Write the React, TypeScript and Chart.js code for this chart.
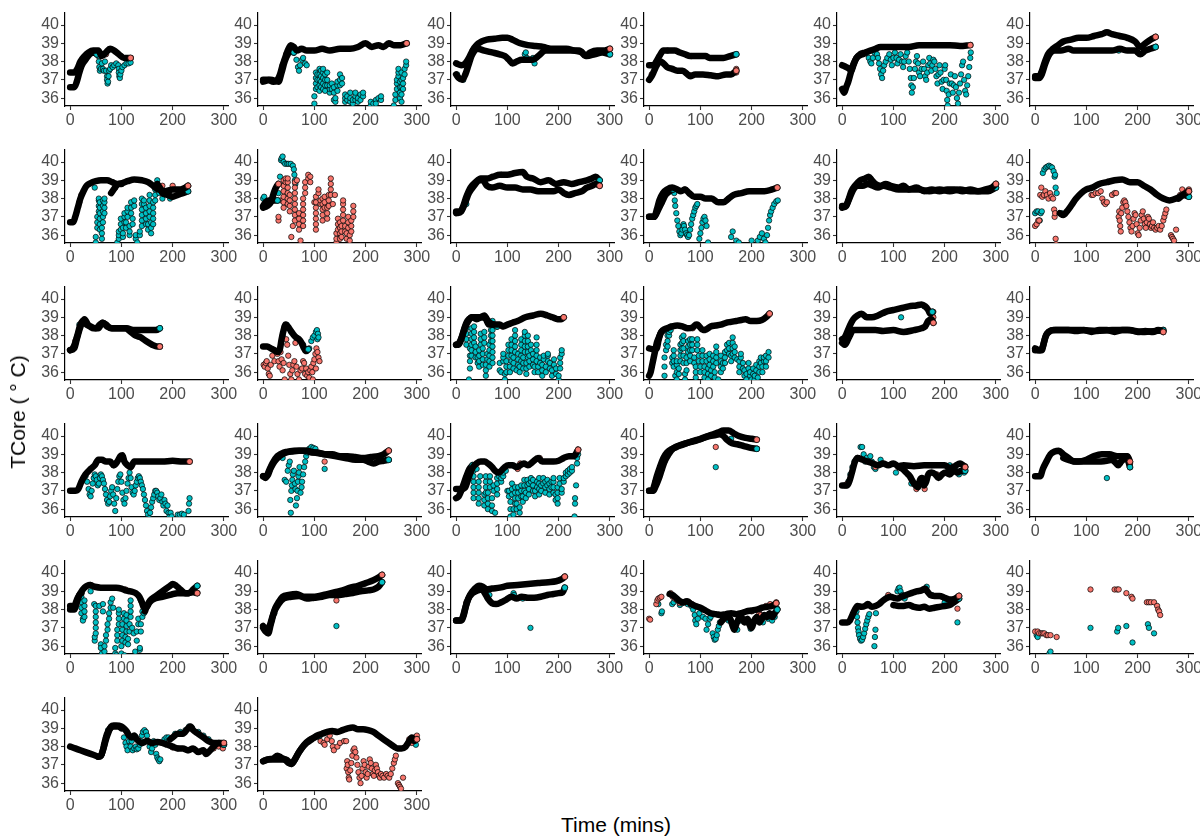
import React, { useEffect, useRef } from "react";
import { Chart, registerables } from "chart.js";
Chart.register(...registerables);

const SALMON = "#F8766D";
const TEAL = "#00BFC4";
const FONT = "'Liberation Sans', Arial, Helvetica, sans-serif";
const X_TICKS = [0, 100, 200, 300];
const Y_TICKS = [36, 37, 38, 39, 40];
const X_MIN = -10, X_MAX = 308, Y_MIN = 35.57, Y_MAX = 40.68;
const Y_TITLE = "TCore ( \u00B0 C)";
const X_TITLE = "Time (mins)";

// tracks: [time, value]; dots: [time, value, value, ...] (several readings at one time)
const p01a = [[0,37.4],[8,37.4],[14,37.6],[20,38.0],[28,38.3],[36,38.5],[45,38.6],[55,38.6],[62,38.3],[70,38.5],[78,38.7],[86,38.6],[95,38.4],[105,38.2],[112,38.2],[118,38.2]];
const p01b = [[0,36.6],[8,36.6],[13,36.9],[18,37.4],[23,37.8],[30,38.1],[38,38.4],[46,38.5],[52,38.4]];
const p01ad = [[70,38.4]];
const p01bd = [[55,38.3],[56,38.0],[57,37.7],[58,37.5],[60,37.6],[62,37.9],[64,37.6],[66,37.5],[68,38.0],[70,37.5],[72,37.2,37.0],[73,36.8],[74,36.9],[75,37.2],[76,37.5],[78,37.6],[80,37.8],[83,37.7],[86,37.8],[90,37.9],[94,37.8],[95,37.6,37.4],[96,37.2],[97,37.1],[98,37.3],[100,37.5],[102,37.7],[106,37.8],[110,37.9],[114,37.9],[118,37.95]];

const p02a = [[0,37.0],[10,37.0],[20,36.9],[28,37.0],[33,37.3],[38,37.8],[43,38.2],[48,38.6],[54,38.9],[60,38.8],[66,38.6],[75,38.7],[85,38.6],[100,38.6],[115,38.7],[130,38.6],[150,38.7],[170,38.7],[185,38.8],[200,39.0],[212,38.8],[225,38.9],[235,38.8],[245,39.0],[255,38.9],[268,38.9],[280,39.0]];
const p02b = [[0,36.9],[15,37.0],[30,36.9],[36,37.4],[42,38.0],[48,38.4],[55,38.6],[60,38.5]];
const p02ad = [[38,37.8],[42,38.1],[45,38.4],[58,38.5]];
const p02bd = [[65,38.1],[68,37.7],[70,37.5],[72,37.8],[76,38.1],[78,38.2],[82,37.9],[85,37.8],[100,35.7,36.1],[103,36.5,36.8,37.1,37.4],[106,36.6,37.0,37.3],[110,36.4,36.7,37.0,37.3,37.6],[113,36.6,36.9,37.2,37.5],[117,36.5,36.8,37.1,37.4,37.6],[121,36.4,36.7,37.0,37.3],[125,36.7,37.0,37.4],[130,36.3,36.5,36.7],[134,36.5,36.8],[138,35.9,36.3,36.6],[141,35.8,36.0],[145,36.4,36.7,36.9],[150,36.7,37.0,37.3],[154,36.8,37.1],[160,35.8,36.0,36.2],[164,35.9,36.1],[170,35.8,36.0,36.3],[175,35.7,35.9],[180,35.9,36.1,36.3],[185,35.8,36.0],[190,35.9,36.2],[195,36.1,36.3],[210,35.6,35.8],[215,35.7],[220,35.9,35.7],[225,36.0],[230,35.9,36.1],[255,35.6],[258,35.9,36.2],[261,36.5,36.8,37.0],[264,37.2,37.4,37.6],[267,36.0,36.3,36.6,36.9],[270,35.8,36.2,36.6,37.0,37.4],[273,36.5,36.8,37.1],[276,37.3,37.6],[279,37.8,38.0]];

const p03a = [[0,37.9],[10,37.8],[18,37.9],[25,38.2],[32,38.6],[40,38.9],[50,39.1],[60,39.2],[75,39.25],[90,39.3],[100,39.3],[110,39.2],[125,39.0],[140,38.9],[155,38.85],[170,38.8],[185,38.7],[200,38.7],[215,38.7],[230,38.6],[245,38.5],[252,38.3],[262,38.5],[275,38.6],[290,38.6],[300,38.7]];
const p03b = [[0,37.3],[5,37.1],[12,37.0],[18,37.3],[24,37.8],[30,38.3],[36,38.6],[42,38.7],[55,38.6],[70,38.5],[85,38.4],[95,38.3],[103,38.1],[110,37.9],[118,38.0],[128,38.1],[150,38.1],[160,38.3],[175,38.6],[200,38.6],[220,38.6],[240,38.6],[255,38.3],[270,38.4],[285,38.5],[300,38.4]];
const p03ad = [[32,38.6]];
const p03bd = [[2,37.3],[6,37.1],[14,37.0],[132,38.1],[134,38.4],[136,38.5],[138,38.2],[150,38.2],[153,37.9]];

const p04a = [[0,37.0],[5,37.2],[10,37.5],[15,37.8],[22,38.0],[28,37.9],[35,37.7],[45,37.6],[55,37.5],[65,37.5],[75,37.3],[80,37.2],[90,37.3],[105,37.3],[120,37.25],[135,37.2],[150,37.3],[160,37.3],[170,37.5]];
const p04b = [[0,37.8],[8,37.8],[14,38.0],[20,38.3],[28,38.6],[38,38.6],[50,38.6],[60,38.5],[70,38.4],[80,38.3],[95,38.3],[110,38.3],[118,38.2],[130,38.2],[145,38.2],[158,38.3],[170,38.4]];
const p04ad = [[5,37.3],[80,37.25],[170,37.4,37.6]];
const p04bd = [[36,38.6],[82,38.3]];

const p05a = [[0,37.8],[8,37.7],[14,37.6],[18,37.5],[22,37.8],[28,38.2],[35,38.4],[45,38.5],[55,38.6],[65,38.7],[75,38.8],[90,38.8],[110,38.8],[130,38.8],[150,38.9],[170,38.9],[190,38.9],[210,38.9],[230,38.85],[250,38.9]];
const p05b = [[0,36.5],[4,36.3],[8,36.6],[12,36.9],[16,37.3],[20,37.7],[26,38.1],[32,38.3],[40,38.4],[48,38.5]];
const p05ad = [];
const p05bd = [[52,38.2],[55,38.0],[57,37.9],[60,38.2],[63,38.5],[65,38.6],[68,38.4],[70,38.2],[72,37.9],[74,37.6],[76,37.3],[78,37.1],[80,37.5],[82,37.8],[85,38.0],[88,38.2],[92,38.4],[95,38.1],[97,37.8],[100,38.2],[103,38.5],[106,38.2],[108,37.9],[111,38.1],[114,38.4],[117,38.0],[119,37.7],[121,38.0],[124,38.3],[127,38.5],[130,38.0],[132,37.6],[134,37.1],[135,36.7],[136,36.3],[138,36.6],[140,37.1],[142,37.6],[144,38.0],[146,38.3],[148,37.9],[150,37.4],[152,37.2],[155,37.6],[158,38.0],[160,37.6],[162,37.2],[164,37.0],[166,37.4],[168,37.8],[170,38.2],[172,37.9],[174,37.5],[176,37.8],[178,38.1],[180,38.0],[182,37.6],[184,37.2],[186,36.8],[188,37.3],[190,37.8],[192,37.4],[194,36.9],[196,36.5],[198,37.0],[200,37.6],[201,37.8],[203,37.0],[204,36.4],[205,35.9],[206,35.6],[208,36.2],[210,36.8],[212,37.3],[214,36.8],[216,36.3],[218,36.7],[220,37.2],[222,36.6],[224,36.0],[226,35.7],[228,36.3],[230,36.8],[232,37.3],[234,37.8],[236,38.0],[238,37.0],[240,36.4],[242,36.2],[244,36.7],[246,37.2],[248,37.7],[250,38.2],[251,38.5]];

const p06a = [[0,37.2],[8,37.2],[12,37.4],[18,37.9],[25,38.4],[35,38.7],[45,38.9],[55,39.1],[70,39.2],[85,39.3],[100,39.3],[115,39.4],[130,39.5],[140,39.6],[150,39.5],[165,39.4],[180,39.3],[195,39.1],[205,38.8],[215,39.0],[225,39.2],[235,39.35]];
const p06b = [[0,37.1],[8,37.1],[13,37.3],[20,37.9],[28,38.4],[38,38.6],[50,38.6],[65,38.7],[75,38.6],[90,38.6],[110,38.6],[130,38.6],[150,38.6],[165,38.7],[180,38.6],[195,38.6],[205,38.4],[215,38.6],[225,38.7],[235,38.8]];
const p06ad = [];
const p06bd = [[10,37.2],[163,38.6]];

const p07a = [[0,36.7],[6,36.7],[10,37.0],[15,37.5],[20,38.0],[26,38.4],[32,38.7],[40,38.85],[50,38.95],[60,39.0],[72,39.0],[82,38.9],[92,38.8],[102,38.85],[112,38.95],[125,39.05],[140,39.0],[152,38.9],[162,38.7],[172,38.5],[185,38.4],[200,38.5],[215,38.5],[225,38.6],[230,38.7]];
const p07b = [[80,38.3],[85,38.5],[90,38.7],[95,38.8],[100,38.8],[105,null],[170,38.8],[175,38.6],[180,38.3],[190,38.2],[200,38.1],[210,38.2],[220,38.3],[230,38.4]];
const p07ad = [[18,37.8],[22,38.2],[88,38.6],[180,38.7],[200,38.7]];
const p07bd = [[48,38.6],[50,35.6,35.9],[53,36.4,36.7,37.0],[56,37.3,37.6,37.9,38.0],[58,36.3,36.6,36.9,37.2,37.5,37.8],[62,35.8,36.1,36.4],[64,36.7,37.0,37.3,37.6,37.9],[67,37.2,37.5,37.8,38.0],[92,35.6],[95,35.8,36.0,36.2],[99,36.3,36.6,36.9],[103,35.9,36.1,36.4],[106,36.7,37.0,37.2],[109,36.4,36.7],[112,37.0,37.3,37.5],[116,36.0,36.2,36.5],[119,37.2,37.5,37.8],[122,36.6,36.9],[125,37.6,37.9],[128,35.8,36.0],[131,35.6],[136,36.0,36.2],[140,36.5,36.8,37.1,37.4,37.7,38.0],[144,37.7,37.9],[148,36.6,36.9,37.2,37.5],[152,36.3,36.6],[155,37.0,37.3,37.6,37.9,38.2],[158,36.1,36.4,36.7],[162,36.6,36.9,37.2,37.5,37.8],[166,37.9,38.2,38.5],[170,38.8,39.0],[174,38.6,38.3],[180,38.0],[190,38.2],[195,38.0],[200,38.1]];

const p08a = [[0,37.5],[8,37.6],[15,37.8],[22,38.4],[27,38.7],[30,38.8]];
const p08b = [[0,37.6],[5,37.8],[10,37.9],[20,37.9],[28,37.9]];
const p08ad = [[30,36.8,37.0],[35,37.9],[40,37.5,37.8,38.1,38.4,38.7,39.0],[44,38.9,39.1],[48,37.7,38.0,38.3,38.6,38.9,39.1],[52,37.3,37.6,37.9,38.2],[55,35.9],[58,36.5],[62,36.8,37.1,37.4,37.7,38.0,38.3,38.6,38.9],[66,39.0],[70,36.3,36.6,36.9,37.2],[73,35.7],[78,36.5,36.8,37.1,37.4,37.7,38.0],[82,38.3,38.6,38.9],[88,39.1,39.3],[92,39.2,38.9],[100,37.8],[103,36.3,36.6,36.9,37.2,37.5,37.8,38.1],[108,38.3,38.5],[112,37.7,37.9],[116,36.8,37.1,37.4,37.7,38.0],[120,37.5,37.8,38.1],[125,36.9,37.2,37.5],[128,37.6,37.9,38.2],[132,38.2,38.5,38.8,39.1],[136,37.7],[140,38.2],[143,35.6,35.8,36.1],[146,36.3,36.6,36.9],[150,35.8,36.1,36.4,36.7],[153,35.9,36.2,36.5],[156,36.8,37.1,37.4,37.7,37.9],[160,36.2,36.5],[163,35.8,36.1],[166,36.4,36.7,37.0],[169,35.7,36.0],[172,36.2,36.5,36.8],[176,37.0,37.3,37.6]];
const p08bd = [[0,38.0],[2,38.1],[30,38.3],[33,39.2],[35,40.1],[36,40.2],[38,40.3],[40,40.0],[43,39.9],[47,39.9],[50,39.9],[54,39.9],[58,39.8],[60,39.6],[61,39.3],[62,39.0],[63,38.8]];

const p09a = [[0,37.2],[10,37.3],[18,37.8],[25,38.3],[35,38.7],[45,39.0],[52,39.0],[60,38.7],[70,38.6],[85,38.7],[100,38.6],[115,38.6],[130,38.5],[145,38.5],[160,38.4],[175,38.4],[190,38.4],[200,38.5],[210,38.3],[220,38.2],[232,38.3],[245,38.4],[255,38.6],[265,38.7],[272,38.8],[280,38.7]];
const p09b = [[0,37.3],[8,37.3],[14,37.6],[20,38.1],[28,38.6],[38,38.9],[48,39.1],[60,39.1],[72,39.2],[85,39.3],[100,39.3],[115,39.4],[130,39.45],[138,39.2],[150,39.1],[165,38.9],[180,39.0],[195,38.8],[210,38.9],[225,38.8],[240,38.9],[255,39.0],[265,39.1],[272,39.2],[280,39.0]];
const p09ad = [[275,38.8]];
const p09bd = [[20,37.7],[88,39.3]];

const p10a = [[0,37.0],[10,37.0],[15,37.4],[20,37.9],[27,38.3],[35,38.5],[45,38.6],[55,38.5],[62,38.4],[70,38.5],[78,38.3],[88,38.1],[100,38.1],[110,38.0],[122,38.0],[135,37.8],[145,37.8],[155,38.0],[165,38.2],[180,38.3],[195,38.4],[210,38.4],[225,38.4],[240,38.5],[250,38.6]];
const p10b = [[0,37.0],[10,37.0],[18,37.4],[25,37.8],[32,38.2],[40,38.4],[47,38.5]];
const p10ad = [[70,38.5],[155,38.0]];
const p10bd = [[49,38.3],[50,37.9],[51,37.6],[53,37.2],[55,36.8],[57,36.5],[59,36.2],[61,36.0],[63,36.1],[65,36.3],[67,36.6],[68,36.5],[70,36.3],[72,36.1],[74,36.0],[76,35.9],[78,36.0],[80,36.3],[82,36.6],[84,36.9],[86,37.1],[88,37.3],[90,37.5],[92,37.6],[94,37.7],[98,35.8],[100,36.1],[102,36.4],[104,36.7],[106,36.9],[108,37.0],[110,36.8],[112,36.5],[115,35.6],[160,35.9],[163,36.2],[170,35.7],[175,35.6],[200,35.7],[212,35.7],[216,35.9],[220,36.1],[224,35.8],[227,35.6],[230,36.0],[232,36.4],[234,36.8],[236,37.1],[238,37.3],[241,37.5],[244,37.7],[248,37.85],[251,37.9]];

const p11a = [[0,37.6],[7,37.6],[12,37.9],[18,38.4],[25,38.7],[35,39.0],[45,39.1],[52,39.2],[58,39.0],[65,38.8],[75,38.7],[85,38.8],[95,38.7],[110,38.6],[120,38.7],[130,38.5],[145,38.6],[160,38.4],[175,38.5],[190,38.4],[205,38.5],[220,38.5],[235,38.4],[250,38.5],[265,38.4],[280,38.5],[292,38.6],[300,38.8]];
const p11b = [[0,37.5],[8,37.6],[14,38.0],[22,38.5],[30,38.7],[40,38.7],[50,38.8],[60,38.7],[70,38.6],[80,38.7],[95,38.6],[110,38.5],[130,38.5],[150,38.5],[170,38.4],[190,38.5],[210,38.4],[230,38.5],[250,38.4],[270,38.4],[285,38.4],[300,38.6]];
const p11ad = [];
const p11bd = [[55,39.1]];

const p12a = [[48,37.2],[55,37.1],[62,37.3],[70,37.6],[80,38.0],[90,38.3],[100,38.5],[112,38.6],[125,38.8],[140,38.9],[155,39.0],[170,39.05],[185,38.9],[200,38.9],[212,38.7],[225,38.5],[238,38.2],[250,38.0],[262,37.9],[275,38.0],[288,38.2],[300,38.4]];
const p12b = [[280,38.0],[290,38.2],[300,38.1]];
const p12ad = [[0,36.5],[3,36.6],[6,36.8],[8,36.8],[10,38.2],[12,38.6],[14,38.1],[17,38.2],[20,38.4],[23,38.2],[26,38.0],[29,38.3],[32,38.1],[35,38.0],[37,37.4],[38,37.0],[39,37.2],[40,35.8],[41,35.5],[110,38.2],[113,38.2],[118,38.3],[123,38.3],[128,38.4],[131,38.0],[134,37.8],[137,37.7],[140,37.8],[150,38.2],[155,38.3],[158,38.3],[163,37.0],[164,37.3],[165,36.8],[166,36.5],[167,36.2],[168,37.2],[170,37.5],[172,37.8],[174,37.9],[176,37.8],[178,37.6],[180,37.3],[182,37.0],[184,36.7],[186,36.4],[188,36.2],[190,36.5],[192,36.9],[194,37.2],[196,37.1],[198,36.6],[200,36.1],[202,36.0],[204,36.4],[206,36.8],[208,37.1],[210,37.3],[212,36.9],[214,36.6],[216,36.4],[218,36.7],[220,37.0],[222,36.9],[224,36.6],[226,36.4],[228,36.5],[230,36.7],[232,36.4],[235,36.3],[238,36.4],[241,36.5],[244,36.3],[247,36.5],[250,36.8],[252,37.0],[254,37.2],[256,37.4],[265,36.0],[267,35.9],[269,35.8],[271,35.7],[275,36.3],[283,38.2],[287,38.5],[292,38.3],[296,38.4],[300,38.5]];
const p12bd = [[0,37.2],[3,37.3],[6,37.3],[9,36.8],[11,37.2],[13,37.3],[15,39.4],[18,39.6],[21,39.7],[24,39.75],[27,39.8],[30,39.75],[33,39.7],[36,39.5],[38,39.2],[39,39.3],[40,38.6],[42,38.3],[52,37.2]];

const p13a = [[0,37.2],[5,37.3],[10,37.6],[15,38.1],[20,38.6],[25,38.8],[32,38.6],[40,38.5],[50,38.4],[58,38.6],[64,38.7],[72,38.5],[82,38.4],[95,38.4],[108,38.4],[118,38.2],[128,38.0],[138,37.9],[148,37.7],[160,37.5],[170,37.4],[175,37.4]];
const p13b = [[0,37.2],[8,37.3],[13,37.8],[18,38.3],[23,38.7],[28,38.9],[35,38.6],[45,38.4],[55,38.4],[63,38.7],[70,38.6],[80,38.4],[95,38.4],[110,38.4],[125,38.3],[140,38.3],[155,38.3],[168,38.3],[175,38.4]];
const p13ad = [[10,37.7],[13,37.9]];
const p13bd = [[18,38.6]];

const p14a = [];
const p14b = [[0,37.4],[8,37.4],[15,37.3],[22,37.2],[28,37.1],[33,37.3],[36,37.8],[40,38.3],[44,38.6],[48,38.5],[53,38.3],[58,38.1],[64,37.9],[70,37.8],[75,37.6],[80,37.3],[84,37.15],[88,37.25]];
const p14ad = [[1,36.4],[3,36.3],[5,36.5],[7,36.6],[9,36.2],[11,35.9],[13,35.8],[15,36.4],[18,36.9],[22,36.6],[28,37.0],[30,36.6],[32,36.3],[34,37.1],[36,36.7],[38,36.1],[40,36.5],[42,35.6],[45,37.8],[47,37.5],[49,36.9],[51,36.4],[53,35.9],[55,35.6],[57,36.1],[59,36.4],[61,36.6],[63,37.6],[65,36.3],[67,35.9],[70,35.6],[73,36.1],[76,36.2],[78,36.6],[80,36.5],[82,35.9],[84,36.2],[86,35.8],[88,36.0],[90,35.7],[92,36.1],[94,36.3],[96,36.0],[97,35.6],[98,36.5],[100,36.7],[102,37.0],[103,36.2],[104,37.3],[106,37.1],[108,36.8],[110,36.6]];
const p14bd = [[38,38.0],[42,38.5],[46,38.6],[55,38.2],[65,37.9],[78,37.5],[90,37.3],[94,37.7],[97,37.9],[100,38.0],[103,38.2],[105,38.3],[106,37.8],[107,38.1],[108,37.9]];

const p15a = [[0,37.5],[5,37.5],[10,37.8],[15,38.3],[20,38.7],[25,38.9],[32,39.0],[40,38.9],[48,39.0],[55,39.1],[60,38.9],[66,38.7],[75,38.6],[85,38.6],[92,38.5],[100,38.6],[110,38.7],[120,38.8],[135,39.0],[150,39.1],[165,39.2],[178,39.1],[188,39.0],[198,38.9],[205,38.9],[210,39.0]];
const p15b = [[0,37.5],[6,37.6],[12,38.0],[18,38.5],[24,38.8],[30,39.0],[40,39.0],[50,39.0],[58,38.9],[64,38.6],[72,38.6],[80,38.5]];
const p15ad = [[90,38.5]];
const p15bd = [[20,37.5,37.8,38.1,38.4],[25,35.6],[27,36.2,36.6,36.9,37.3],[30,36.9,37.2,37.5,37.8,38.1,38.4],[35,37.6,37.9,38.2,38.5],[38,36.8,37.1,37.4],[42,36.5,36.8],[45,36.3,36.6,36.9,37.2],[48,37.5,37.8,38.1],[52,36.4,36.7,37.0,37.3],[55,37.6,37.9,38.2],[58,35.8,36.1,36.4],[61,36.7,37.0],[65,36.3,36.6,36.9,37.2,37.5],[68,37.7,38.0,38.3],[71,36.5,36.8,37.1,37.4,37.7,38.0,38.3,38.6,38.8],[85,36.5,36.1],[88,36.0],[92,36.6,36.8,37.0],[95,35.6,35.9],[98,36.0,36.3,36.6],[102,36.9,37.2,37.5],[105,36.0,36.3],[108,36.6,36.9,37.2,37.5,37.8],[112,36.2,36.5,36.8],[115,37.1,37.4,37.7,38.0,38.3],[118,36.1],[121,36.4,36.7,37.0],[124,36.0,36.3],[127,36.6,36.9,37.2,37.5,37.8],[131,36.2,36.5,36.8],[134,37.1,37.4,37.7,38.0,38.2],[137,35.9,36.2,36.5],[140,36.8,37.1,37.4,37.7,38.0],[143,36.3,36.6,36.9],[146,37.2,37.5],[150,36.4,36.7,37.0],[153,36.0,36.3],[157,36.6,36.9,37.2,37.5,37.9],[160,36.0,36.3],[164,36.5,36.8],[168,35.8,36.1,36.4],[171,36.7,36.9],[175,36.0,36.3],[179,36.6,36.9,37.0],[183,36.2,36.5],[187,35.8,36.1],[191,36.4,36.7],[195,35.9,36.2],[200,35.6,35.8],[203,36.2,36.5,36.8],[206,37.0,37.2]];

const p16a = [[0,37.3],[8,37.25],[15,37.3],[18,37.7],[22,38.1],[27,38.3],[35,38.4],[45,38.5],[55,38.55],[65,38.5],[75,38.4],[85,38.45],[92,38.6],[98,38.5],[105,38.3],[112,38.35],[120,38.5],[130,38.55],[140,38.6],[150,38.7],[160,38.75],[170,38.8],[180,38.85],[188,38.9],[198,38.8],[210,38.8],[220,38.85],[228,39.0],[235,39.2]];
const p16b = [[0,35.8],[3,36.0],[6,36.4],[9,36.8],[12,37.2],[15,37.6],[19,37.9],[24,38.2],[30,38.3]];
const p16ad = [[85,38.4],[95,38.6]];
const p16bd = [[30,35.8,36.3,36.8],[33,37.2,37.5],[36,37.4,37.7,38.0],[39,38.0,38.2],[42,38.3,38.5],[45,36.5,36.8],[48,36.3,36.6,36.9,37.2],[51,35.8],[54,35.6,36.0,36.4,36.6],[58,35.9,36.2],[61,36.6,36.9,37.2,37.5],[64,37.3,37.6,37.9],[67,36.5,36.9,37.3,37.7,38.0],[70,35.6,35.9],[73,36.1,36.5,36.8],[76,37.1,37.4,37.7],[80,36.6,36.9,37.2,37.5,37.8],[84,37.8,37.5,37.2],[88,36.5,36.8],[91,35.7,36.0,36.3],[94,37.2,37.5,37.8],[97,36.6,36.9],[100,36.0,36.3],[104,36.6,36.9,37.2],[108,35.7,36.0,36.3],[112,36.6,36.9],[115,35.6,35.9,36.2],[118,36.4,36.7,37.0],[121,35.8,36.1],[125,36.3,36.6,36.9],[128,35.7,36.0],[131,36.5,36.8,37.1,37.4],[135,35.6],[140,36.0,36.3,36.6,36.9],[144,36.2,36.5],[148,36.5,36.8,37.1],[152,37.2,37.5],[156,37.0,37.3,37.6],[160,36.6,36.9],[163,37.0,37.3,37.6,37.9],[167,36.8,37.1,37.4],[172,36.7],[176,36.0,36.3,36.6],[179,36.8,37.0],[183,36.2,36.5],[186,35.8,36.1],[190,35.6,35.9],[194,36.2,36.5],[197,35.8,36.0],[200,35.6],[203,35.9,36.2],[206,35.6,35.8],[209,36.1,36.4],[212,35.7],[215,36.0,36.3,36.6],[218,36.5,36.8],[221,36.0,36.3],[224,36.6,36.8],[228,36.3,36.6,36.9],[233,36.8,37.1]];

const p17a = [[0,37.6],[5,37.5],[10,37.7],[15,38.0],[22,38.3],[35,38.3],[50,38.3],[65,38.3],[80,38.25],[100,38.3],[120,38.2],[140,38.3],[155,38.4],[162,38.5],[168,38.8],[174,38.9],[178,38.7]];
const p17b = [[0,37.8],[5,37.9],[10,38.2],[16,38.6],[22,38.9],[30,39.1],[38,39.2],[48,39.0],[58,39.0],[70,39.1],[85,39.3],[100,39.4],[115,39.5],[130,39.6],[145,39.65],[155,39.7],[162,39.6],[168,39.4],[172,39.2],[176,39.3]];
const p17ad = [[5,37.5],[162,38.5],[176,39.1],[178,39.3,39.0]];
const p17bd = [[115,39.0],[160,39.6]];

const p18a = [[0,37.3],[8,37.2],[13,37.2],[17,37.6],[21,38.0],[27,38.2],[35,38.3],[50,38.3],[65,38.3],[80,38.25],[95,38.3],[110,38.2],[125,38.3],[140,38.3],[155,38.2],[170,38.3],[185,38.3],[200,38.2],[215,38.25],[230,38.2],[240,38.3],[250,38.2]];
const p18b = [[0,37.2],[10,37.2],[15,37.4],[20,37.9],[26,38.2],[40,38.3],[60,38.3],[90,38.3],[120,38.25],[150,38.3],[180,38.3],[210,38.2],[235,38.25],[250,38.3]];
const p18ad = [];
const p18bd = [];

const p19a = [[0,37.0],[10,37.0],[16,37.1],[22,37.5],[30,37.9],[40,38.2],[48,38.4],[55,38.7],[62,38.7],[70,38.6],[78,38.6],[85,38.4],[92,38.6],[98,38.9],[102,38.95],[106,38.6],[112,38.4],[118,38.3],[125,38.6],[140,38.6],[160,38.6],[180,38.6],[200,38.65],[220,38.6],[233,38.6]];
const p19b = [];
const p19ad = [[85,38.4],[88,38.5],[118,38.3]];
const p19bd = [[30,37.8],[33,37.5],[36,37.1],[38,36.8],[40,36.7],[42,37.0],[44,37.4],[46,37.7],[48,37.9],[50,37.8],[52,37.6],[54,37.3],[56,37.4],[58,37.7],[60,37.9],[62,37.8],[64,37.6],[66,37.4],[68,37.1],[70,36.8],[72,36.5],[74,36.3],[76,36.4],[78,36.7],[80,37.0],[82,37.2],[84,36.8],[86,36.3],[88,35.9],[90,36.6],[92,37.1],[94,37.5],[96,37.8],[98,37.9],[100,37.5],[102,36.9],[104,36.5],[106,36.3],[108,36.6],[110,37.0],[112,37.4],[114,37.7],[116,38.0],[118,37.7],[120,37.2],[122,36.9],[124,36.8],[126,37.0],[128,37.3],[130,37.5],[132,37.7],[134,37.8],[136,37.7],[138,37.5],[140,37.3],[142,37.1],[144,36.8],[146,36.5],[148,36.2],[150,35.9],[152,35.7],[154,35.5],[156,35.8],[158,36.1],[160,36.4],[162,36.6],[164,36.8],[166,37.0],[168,37.0],[170,36.9],[172,36.7],[174,36.5],[176,36.6],[178,36.8],[180,36.4],[182,36.2],[184,36.5],[186,36.3],[188,35.9],[190,36.2],[192,35.8],[194,35.6],[196,35.8],[198,35.6],[210,35.7],[214,35.7],[218,35.75],[222,35.7],[231,35.9],[232,36.3],[233,36.6]];

const p20a = [[0,37.8],[5,37.7],[10,38.0],[18,38.5],[28,38.9],[40,39.1],[55,39.15],[70,39.2],[85,39.2],[95,39.1],[105,39.1],[120,39.0],[135,39.0],[150,38.9],[165,38.9],[180,38.85],[195,38.8],[210,38.85],[225,38.9],[235,39.0],[245,39.2]];
const p20b = [[0,37.8],[8,37.8],[14,38.2],[22,38.6],[32,38.9],[45,39.1],[60,39.2],[80,39.2],[100,39.1],[120,39.0],[140,38.9],[160,38.8],[180,38.7],[195,38.7],[205,38.6],[215,38.5],[225,38.6],[235,38.65],[245,38.7]];
const p20ad = [[120,38.6]];
const p20bd = [[38,38.8],[42,37.6],[45,37.5],[48,38.1],[50,38.4],[52,38.6],[53,36.5],[54,35.8],[55,37.0],[56,37.3],[57,37.6],[58,37.9],[60,38.1],[62,37.4],[63,37.1],[64,36.2],[66,36.6],[67,37.0],[68,37.5],[69,37.8],[70,38.0],[71,38.3],[73,36.9],[75,37.2],[76,37.5],[78,37.9],[80,38.3],[82,38.6],[84,38.9],[86,39.1],[90,39.3],[94,39.4],[98,39.35],[102,39.3],[120,38.2]];

const p21a = [[0,37.1],[10,37.1],[18,37.2],[23,37.6],[28,38.0],[33,38.3],[40,38.5],[48,38.6],[56,38.6],[62,38.5],[70,38.3],[76,38.1],[82,38.0],[88,38.1],[95,38.3],[102,38.4],[110,38.4],[118,38.3],[125,38.4],[132,38.5],[140,38.4],[150,38.6],[160,38.8],[168,38.6],[178,38.6],[190,38.6],[200,38.65],[210,38.8],[220,38.9],[230,38.9],[235,39.1],[238,39.25]];
const p21b = [[0,36.6],[5,36.7],[10,37.0],[15,37.4],[20,37.8],[26,38.2],[32,38.4]];
const p21ad = [[120,38.2],[125,38.5],[163,38.8]];
const p21bd = [[34,36.6,36.9,37.2,37.5,37.8,38.1],[40,38.2],[44,36.3,36.6,36.9,37.2,37.5],[47,37.8],[55,36.2,36.5,36.8],[58,36.9,37.2,37.5,37.8],[62,36.0,36.3,36.6,36.9],[66,37.2,37.5,37.8],[70,35.9,36.2,36.6],[73,37.0,37.3],[76,35.8],[80,36.8,37.1,37.4,37.7],[84,37.8,38.0],[88,37.5,37.7,37.9],[92,37.8,38.0],[97,38.1],[100,37.0],[103,36.7,37.0],[106,35.6,36.0,36.4],[109,36.8,37.1,37.4],[112,35.7,36.0],[115,36.3,36.6,36.9,37.2],[118,36.0,36.3],[121,36.6,36.9,37.2],[124,35.8,36.1],[127,36.7,37.0,37.3],[130,36.4,36.7],[133,37.0,37.3,37.6],[136,36.6,36.9],[139,37.3,37.6],[142,36.8,37.1,37.4],[146,37.5,37.7],[150,37.0,37.3,37.6],[154,36.7,37.0],[158,37.2,37.5],[162,36.8,37.1,37.4,37.7],[166,37.0,37.3],[170,37.4,37.7],[174,36.9,37.2,37.5],[178,37.3,37.6],[182,36.8,37.1,37.4],[186,37.2,37.5],[190,36.9,37.2,37.5,37.7],[194,36.5,36.8],[198,36.3,36.6,36.9,37.2],[202,37.4,37.7],[206,36.9,37.1],[210,37.5,37.7],[214,37.8,38.0],[218,37.9,38.1],[222,38.0,38.2],[226,38.1,38.3],[231,35.6],[232,36.3,36.6],[234,37.3],[236,38.5,38.8],[238,39.0]];

const p22a = [[0,37.0],[8,37.0],[12,37.2],[18,37.6],[24,38.1],[30,38.6],[38,39.0],[46,39.3],[55,39.45],[65,39.55],[78,39.65],[92,39.75],[105,39.9],[115,40.0],[125,40.1],[135,40.2],[145,40.3],[155,40.3],[165,40.15],[175,40.0],[188,39.9],[200,39.85],[210,39.8]];
const p22b = [[0,37.0],[6,37.0],[10,37.3],[15,37.8],[21,38.3],[28,38.8],[35,39.1],[45,39.3],[58,39.45],[72,39.6],[88,39.75],[102,39.85],[118,40.0],[130,40.05],[138,40.1],[145,40.0],[152,39.8],[162,39.6],[172,39.55],[185,39.45],[198,39.35],[210,39.3]];
const p22ad = [[20,37.8],[25,38.2],[30,38.6],[130,39.4]];
const p22bd = [[12,37.5],[130,38.3],[160,39.85]];

const p23a = [[0,37.3],[10,37.3],[15,37.6],[20,38.1],[25,38.6],[30,38.8],[40,38.7],[50,38.6],[60,38.5],[70,38.4],[80,38.5],[90,38.4],[100,38.5],[110,38.35],[120,38.4],[140,38.35],[160,38.4],[180,38.4],[200,38.4],[210,38.25],[220,38.35],[230,38.5],[236,38.4],[240,38.3]];
const p23b = [[110,38.3],[118,38.2],[125,38.0],[132,37.8],[138,37.5],[143,37.3],[148,37.2],[152,37.6],[156,37.7],[160,37.3],[164,37.5],[168,37.9],[175,38.0],[182,37.9],[188,37.7],[195,37.9],[202,38.0],[210,37.9],[218,38.1],[225,38.0],[232,38.1],[240,38.1]];
const p23ad = [[5,37.3],[10,37.4],[65,38.3],[140,37.4],[145,37.1],[150,37.3],[155,37.7],[158,37.4],[161,37.1],[185,37.9],[240,38.35]];
const p23bd = [[8,37.3],[12,37.5],[16,37.9],[20,38.3],[24,38.6],[30,38.8],[36,39.4],[39,39.4],[42,39.0],[45,38.6],[48,38.8],[55,38.9],[58,38.6],[62,38.3],[65,38.2],[75,38.7],[78,38.5],[105,38.0],[135,37.4],[175,38.4],[210,38.4],[222,38.1],[228,37.9],[238,38.0]];

const p24a = [[0,37.8],[10,37.8],[15,38.2],[22,38.6],[30,39.0],[38,39.15],[46,39.2],[55,39.0],[65,38.8],[75,38.6],[85,38.6],[100,38.7],[115,38.9],[130,39.0],[145,39.0],[160,38.9],[172,38.9],[180,38.9],[185,38.6]];
const p24b = [[55,38.8],[65,38.7],[80,38.6],[100,38.6],[120,38.6],[140,38.65],[150,38.7],[158,38.5],[162,38.4],[168,38.6],[176,38.8],[182,38.6],[185,38.3]];
const p24ad = [[182,38.8],[185,38.5]];
const p24bd = [[140,37.7]];

const p25a = [[0,38.2],[8,38.2],[14,38.6],[20,38.9],[28,39.2],[38,39.35],[48,39.25],[60,39.2],[75,39.2],[90,39.2],[100,39.15],[108,39.05],[118,39.0],[128,38.9],[135,38.7],[140,38.4],[144,38.1],[148,38.1],[155,38.4],[165,38.6],[180,38.7],[195,38.8],[210,38.9],[220,38.9],[230,38.9],[240,38.95],[248,38.9]];
const p25b = [[0,38.0],[8,38.0],[13,38.4],[18,38.8],[22,38.9],[25,null],[146,37.9],[150,38.2],[156,38.5],[165,38.7],[175,38.9],[185,39.1],[195,39.3],[200,39.4],[207,39.3],[215,39.1],[225,38.9],[232,38.9],[240,39.1],[248,39.3]];
const p25ad = [[40,39.35],[108,39.1],[138,38.5]];
const p25bd = [[22,38.7,38.4,38.1,37.8],[25,37.5,37.4],[28,37.6,37.9,38.2,38.5],[40,39.0],[47,38.3],[48,36.3,36.5],[50,36.7,37.0,37.3,37.6,37.9,38.2],[57,38.2],[60,36.1,35.9],[62,35.6],[64,37.9,38.3],[67,35.7,36.0],[70,36.3,36.6],[73,36.9,37.2],[76,37.5,37.8],[79,38.1,38.4],[82,38.6],[84,38.1],[88,35.6,35.9],[90,35.5],[92,36.3,36.6,36.9],[95,37.2,37.5,37.8,38.0],[100,35.6,36.0],[102,36.3,36.6,36.9,37.2],[105,37.5,37.8],[106,35.5],[108,36.2,36.5],[110,36.8,37.1,37.4,37.7],[113,36.1,36.4],[116,36.8,37.2],[118,37.6,37.9,38.2,38.5],[121,37.0],[124,36.7],[127,35.7],[130,36.3,36.8],[133,37.2,37.5],[136,35.8,35.9],[138,36.8,37.2],[141,37.6,37.9],[144,37.8]];

const p26a = [[0,37.1],[5,36.9],[9,36.8],[13,37.1],[18,37.6],[24,38.1],[30,38.4],[38,38.7],[50,38.8],[65,38.85],[80,38.7],[95,38.7],[110,38.75],[125,38.85],[140,38.95],[155,39.05],[170,39.2],[185,39.3],[200,39.45],[215,39.6],[225,39.75],[232,39.9]];
const p26b = [[0,37.0],[5,36.8],[10,36.7],[15,37.2],[22,37.9],[30,38.3],[40,38.6],[55,38.7],[70,38.75],[85,38.6],[100,38.65],[115,38.7],[130,38.8],[145,38.8],[160,38.85],[175,38.9],[190,39.0],[205,39.05],[215,39.1],[225,39.25],[232,39.5]];
const p26ad = [[12,37.1],[143,38.5]];
const p26bd = [[10,36.7],[22,37.8],[143,37.1]];

const p27a = [[0,37.4],[10,37.4],[15,37.7],[20,38.3],[27,38.8],[35,39.1],[45,39.3],[52,39.25],[60,39.1],[70,39.15],[85,39.2],[100,39.3],[120,39.35],[140,39.4],[160,39.45],[180,39.5],[195,39.55],[205,39.65],[212,39.8]];
const p27b = [[0,37.4],[8,37.4],[13,37.6],[18,38.1],[24,38.6],[32,38.9],[42,39.05],[50,39.1],[56,38.9],[62,38.6],[70,38.35],[78,38.3],[88,38.4],[98,38.55],[108,38.7],[118,38.6],[128,38.7],[140,38.65],[152,38.65],[165,38.7],[178,38.8],[190,38.85],[200,38.9],[208,38.95],[212,39.2]];
const p27ad = [[20,38.4]];
const p27bd = [[65,38.8],[112,38.9],[113,38.8],[130,38.6],[145,37.0]];

const p28a = [[40,38.85],[45,38.8],[50,38.7],[58,38.5],[66,38.4],[74,38.45],[82,38.3],[90,38.2],[100,38.1],[110,37.95],[120,37.8],[130,37.75],[140,37.7],[150,37.75],[160,37.8],[170,37.75],[180,37.8],[190,37.9],[200,37.95],[210,38.0],[220,38.1],[230,38.15],[240,38.2],[248,38.35]];
const p28b = [[140,37.3],[146,37.5],[152,37.6],[158,37.5],[163,37.1],[166,36.9],[170,37.2],[175,37.5],[180,37.6],[186,37.3],[192,37.5],[197,37.1],[200,37.0],[205,37.4],[210,37.6],[215,37.3],[220,37.5],[225,37.7],[230,37.6],[235,37.8],[240,37.6],[245,37.8],[250,38.0]];
const p28ad = [[0,37.5],[2,37.45],[14,38.3],[16,38.5],[18,38.6],[21,38.65],[24,38.7],[42,38.9],[46,38.7],[50,38.6],[55,38.5],[60,38.35],[68,38.4],[72,38.45],[78,38.4],[84,38.3],[95,38.15],[200,37.9],[215,37.8],[218,37.7],[228,38.2],[236,38.3],[248,38.4]];
const p28bd = [[18,38.3],[24,37.8],[25,37.9],[45,38.3],[48,38.4],[60,38.25],[64,38.35],[75,38.3],[82,38.2],[86,38.0],[89,37.7],[90,37.4],[92,37.2],[95,37.5],[98,37.8],[105,37.6],[110,37.5],[112,36.9],[115,37.2],[118,37.5],[120,37.6],[124,36.7],[126,36.5],[128,36.35],[130,36.4],[132,36.6],[134,36.9],[136,37.1],[138,37.3],[145,37.6],[155,37.4],[165,37.0],[172,36.9],[178,37.4],[190,37.3],[198,36.95],[202,37.2],[212,37.6],[222,37.3],[232,37.5],[240,37.4],[245,37.6],[250,38.05]];

const p29a = [[0,37.3],[10,37.3],[15,37.4],[20,37.7],[25,38.0],[30,38.2],[38,38.15],[45,38.2],[50,38.3],[58,38.15],[65,38.2],[72,38.3],[80,38.5],[88,38.65],[95,38.7],[100,38.65],[108,38.6],[115,38.7],[125,38.8],[135,38.9],[145,39.0],[155,39.05],[162,39.15],[166,39.0],[172,38.8],[180,38.75],[190,38.75],[200,38.65],[210,38.55],[220,38.6],[228,38.75]];
const p29b = [[100,38.25],[110,38.2],[120,38.2],[130,38.25],[140,38.15],[150,38.1],[160,38.15],[170,38.05],[180,38.1],[190,38.15],[200,38.2],[210,38.25],[218,38.4],[228,38.6]];
const p29ad = [[90,38.8],[225,38.05]];
const p29bd = [[28,37.9],[29,37.6],[30,37.3],[31,37.0],[32,36.8],[33,36.6],[35,36.4],[37,36.3],[39,36.35],[41,36.5],[43,36.7],[45,36.95],[47,37.2],[49,37.4],[51,37.6],[53,37.75],[63,36.0],[64,36.5],[65,36.9],[66,37.8],[90,38.7],[108,39.0],[110,39.15],[112,39.2],[114,39.0],[118,38.8],[122,38.6],[160,39.1],[165,39.25],[175,38.8],[200,38.4],[225,37.3]];

const p30a = [];
const p30b = [];
const p30ad = [[0,36.8],[5,36.8],[8,36.7],[12,36.7],[15,36.7],[18,36.7],[22,36.6],[25,36.6],[30,36.6],[42,36.5],[108,39.1],[155,39.1],[160,39.1],[163,39.1],[178,38.9],[188,38.7],[190,38.6],[218,38.4],[222,38.4],[226,38.4],[232,38.4],[238,38.2],[240,38.0],[242,37.9],[244,37.7]];
const p30bd = [[3,36.6],[5,36.5],[28,35.6],[30,35.7],[108,37.0],[160,36.8],[162,37.0],[178,37.1],[190,36.2],[220,37.2],[222,37.0],[232,36.7]];

const p31a = [[0,38.0],[5,37.95],[10,37.9],[20,37.8],[30,37.7],[40,37.6],[50,37.5],[55,37.45],[60,37.5],[65,37.9],[70,38.4],[75,38.8],[80,39.1],[85,39.15],[90,39.15],[100,39.1],[105,39.0],[110,38.85],[115,38.6],[120,38.5],[125,38.6],[130,38.4],[140,38.2],[150,38.3],[160,38.2],[170,38.25],[180,38.2],[190,38.1],[200,38.0],[210,37.9],[220,37.9],[230,37.8],[240,37.9],[250,37.7],[260,37.8],[265,37.6],[270,37.7],[280,38.0],[290,38.2],[300,38.2]];
const p31b = [[55,37.45],[60,37.5],[64,37.8],[68,38.3],[72,38.7],[78,39.0],[85,39.1],[95,39.1],[100,39.0],[102,null],[195,38.4],[200,38.5],[210,38.7],[220,38.7],[230,39.0],[235,39.1],[240,38.9],[250,38.7],[260,38.5],[270,38.3],[280,38.2],[290,38.2],[300,38.1]];
const p31ad = [[110,38.8],[200,37.95],[210,37.9],[230,37.8],[265,37.7],[280,37.9],[290,38.0],[298,37.9]];
const p31bd = [[62,37.6],[66,38.1],[70,38.5],[74,38.9],[78,39.0],[82,39.1],[105,38.5],[108,38.2],[110,38.0],[112,37.8],[115,38.3],[118,38.0],[120,38.3],[122,37.8],[125,37.9],[128,38.0],[130,37.85],[133,37.9],[136,38.1],[138,38.3],[140,38.6],[142,38.8],[145,38.9],[148,38.8],[150,38.6],[152,38.3],[155,38.0],[158,37.7],[160,37.9],[163,38.3],[166,38.1],[168,37.6],[170,37.4],[172,37.3],[174,37.2],[176,37.3],[180,38.2],[184,38.4],[188,38.5],[192,38.5],[205,38.7],[215,38.8],[225,38.9],[232,39.1],[238,39.0],[250,38.8],[260,38.6],[270,38.4],[285,38.1],[298,38.1]];

const p32a = [[0,37.2],[10,37.3],[20,37.35],[28,37.5],[35,37.4],[42,37.3],[50,37.1],[55,37.05],[60,37.2],[68,37.6],[75,37.9],[85,38.2],[95,38.4],[105,38.6],[115,38.7],[125,38.8],[135,38.85],[145,38.8],[155,38.9],[165,39.0],[175,39.05],[185,38.95],[195,38.95],[205,38.9],[215,38.8],[225,38.6],[235,38.4],[245,38.2],[255,38.0],[262,37.9],[270,37.9],[278,38.0],[285,38.3],[290,38.5],[295,38.3],[300,38.4]];
const p32b = [[0,37.2],[10,37.3],[25,37.3],[35,37.3],[45,37.3],[55,37.05],[62,37.3],[70,37.7],[80,38.1],[90,38.35],[100,38.5],[110,38.6]];
const p32ad = [[112,38.3],[118,38.2],[120,38.1],[125,38.4],[130,38.6],[134,38.3],[136,38.0],[138,37.8],[145,38.0],[150,38.2],[158,38.3],[162,38.3],[163,36.8],[164,37.2],[165,37.0],[166,36.6],[167,36.3],[168,36.2],[170,36.7],[172,37.1],[174,37.5],[176,37.8],[178,37.9],[180,37.7],[182,37.4],[184,37.0],[186,36.6],[188,36.3],[190,36.0],[192,36.4],[194,36.8],[196,37.2],[198,37.0],[200,36.6],[202,36.3],[204,36.5],[206,36.9],[208,37.3],[210,37.1],[212,36.8],[214,36.5],[216,36.4],[218,36.7],[220,37.0],[222,36.8],[224,36.6],[226,36.4],[228,36.3],[230,36.5],[233,36.4],[236,36.3],[240,36.5],[243,36.4],[246,36.3],[249,36.5],[252,36.8],[255,37.1],[257,37.3],[259,37.5],[263,36.0],[265,35.9],[267,35.8],[269,35.7],[273,36.3],[285,38.4],[290,38.2],[295,38.5],[300,38.6]];
const p32bd = [[50,37.1],[298,38.1]];

const PANELS: any[][] = [
  [p01a, p01b, p01ad, p01bd], [p02a, p02b, p02ad, p02bd], [p03a, p03b, p03ad, p03bd], [p04a, p04b, p04ad, p04bd], [p05a, p05b, p05ad, p05bd], [p06a, p06b, p06ad, p06bd],
  [p07a, p07b, p07ad, p07bd], [p08a, p08b, p08ad, p08bd], [p09a, p09b, p09ad, p09bd], [p10a, p10b, p10ad, p10bd], [p11a, p11b, p11ad, p11bd], [p12a, p12b, p12ad, p12bd],
  [p13a, p13b, p13ad, p13bd], [p14a, p14b, p14ad, p14bd], [p15a, p15b, p15ad, p15bd], [p16a, p16b, p16ad, p16bd], [p17a, p17b, p17ad, p17bd], [p18a, p18b, p18ad, p18bd],
  [p19a, p19b, p19ad, p19bd], [p20a, p20b, p20ad, p20bd], [p21a, p21b, p21ad, p21bd], [p22a, p22b, p22ad, p22bd], [p23a, p23b, p23ad, p23bd], [p24a, p24b, p24ad, p24bd],
  [p25a, p25b, p25ad, p25bd], [p26a, p26b, p26ad, p26bd], [p27a, p27b, p27ad, p27bd], [p28a, p28b, p28ad, p28bd], [p29a, p29b, p29ad, p29bd], [p30a, p30b, p30ad, p30bd],
  [p31a, p31b, p31ad, p31bd], [p32a, p32b, p32ad, p32bd],
];

// layout (px)
const NCOL = 6;
const COL_PITCH = 193;
const ROW_PITCH = 137;
const PLOT_LEFT0 = 65;
const PLOT_TOP0 = 5;
const PLOT_W = 163;
const PLOT_H = 101;
const Y_AXIS_W = 45;
const X_AXIS_H = 30;
const PAD_TOP = 4;
const PAD_RIGHT = 22;

const dotsOf = (rows: number[][]) => rows.flatMap((r) => r.slice(1).map((y) => ({ x: r[0], y })));
const trackOf = (rows: any[][]) => rows.map((r) => ({ x: r[0], y: r[1] }));

function Panel({ data, index }: { data: any[][]; index: number }) {
  const ref = useRef<HTMLCanvasElement>(null);
  useEffect(() => {
    if (!ref.current) return;
    const [a, b, ad, bd] = data;
    const dotSet = (rows: number[][], color: string) => ({
      data: dotsOf(rows),
      showLine: false,
      pointRadius: 2.7,
      pointBackgroundColor: color,
      pointBorderColor: "#000",
      pointBorderWidth: 0.7,
      clip: 0,
      order: 3,
    });
    const trackSet = (rows: any[][], color: string) => {
      const n = rows.length;
      return {
        data: trackOf(rows),
        showLine: true,
        borderColor: "#000",
        borderWidth: 6.5,
        borderCapStyle: "round",
        borderJoinStyle: "round",
        cubicInterpolationMode: "monotone",
        spanGaps: false,
        pointRadius: (ctx: any) => (ctx.dataIndex === n - 1 ? 2.9 : 0),
        pointBackgroundColor: color,
        pointBorderColor: "#000",
        pointBorderWidth: 0.7,
        clip: 0,
        order: 2,
      };
    };
    const datasets: any[] = [];
    if (ad.length) datasets.push(dotSet(ad, SALMON));
    if (bd.length) datasets.push(dotSet(bd, TEAL));
    if (a.length) datasets.push(trackSet(a, SALMON));
    if (b.length) datasets.push(trackSet(b, TEAL));

    const tickFont = { family: FONT, size: 16 };
    const chart = new Chart(ref.current, {
      type: "scatter",
      data: { datasets },
      options: {
        animation: false,
        responsive: false,
        events: [],
        layout: { padding: { top: PAD_TOP, right: PAD_RIGHT, left: 0, bottom: 0 } },
        plugins: { legend: { display: false }, tooltip: { enabled: false } },
        scales: {
          x: {
            type: "linear",
            min: X_MIN,
            max: X_MAX,
            afterBuildTicks: (s: any) => { s.ticks = X_TICKS.map((v) => ({ value: v })); },
            afterFit: (s: any) => { s.height = X_AXIS_H; },
            ticks: { font: tickFont, color: "#4D4D4D", maxRotation: 0, autoSkip: false, padding: 1 },
            grid: { drawOnChartArea: false, drawTicks: true, tickLength: 4, tickColor: "#333333", tickWidth: 1.1 },
            border: { display: true, color: "#000", width: 1.2 },
          },
          y: {
            type: "linear",
            min: Y_MIN,
            max: Y_MAX,
            afterBuildTicks: (s: any) => { s.ticks = Y_TICKS.map((v) => ({ value: v })); },
            afterFit: (s: any) => { s.width = Y_AXIS_W; },
            ticks: { font: tickFont, color: "#4D4D4D", autoSkip: false, padding: 2 },
            grid: { drawOnChartArea: false, drawTicks: true, tickLength: 4, tickColor: "#333333", tickWidth: 1.1 },
            border: { display: true, color: "#000", width: 1.2 },
          },
        },
      } as any,
    });
    return () => chart.destroy();
  }, [data]);

  const col = index % NCOL;
  const row = Math.floor(index / NCOL);
  const left = PLOT_LEFT0 + col * COL_PITCH - Y_AXIS_W;
  const top = PLOT_TOP0 + row * ROW_PITCH - PAD_TOP;
  const w = Y_AXIS_W + PLOT_W + PAD_RIGHT;
  const h = PAD_TOP + PLOT_H + X_AXIS_H;
  return (
    <canvas
      ref={ref}
      width={w}
      height={h}
      style={{ position: "absolute", left, top, width: w, height: h }}
    />
  );
}

export default function App() {
  return (
    <div
      style={{
        position: "absolute",
        left: 0,
        top: 0,
        width: 1200,
        height: 840,
        overflow: "hidden",
        background: "#fff",
        fontFamily: FONT,
      }}
    >
      {PANELS.map((p, i) => (
        <Panel key={i} data={p} index={i} />
      ))}
      <div
        style={{
          position: "absolute",
          left: 18,
          top: 412,
          transform: "translate(-50%, -50%) rotate(-90deg)",
          whiteSpace: "nowrap",
          fontSize: 21,
          color: "#000",
        }}
      >
        {Y_TITLE}
      </div>
      <div
        style={{
          position: "absolute",
          left: 616,
          top: 825,
          transform: "translate(-50%, -50%)",
          whiteSpace: "nowrap",
          fontSize: 21,
          color: "#000",
        }}
      >
        {X_TITLE}
      </div>
    </div>
  );
}
